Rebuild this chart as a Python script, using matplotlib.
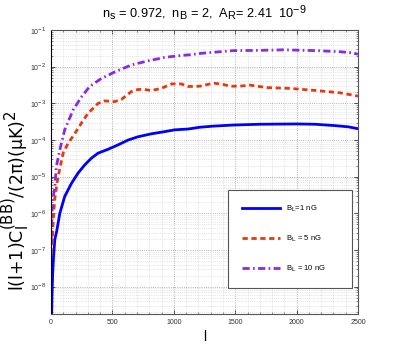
import numpy as np
import matplotlib
matplotlib.use("Agg")
import matplotlib.pyplot as plt
import matplotlib._mathtext as _mt
from matplotlib.ticker import LogLocator, FixedLocator, NullFormatter, MultipleLocator

# MATLAB-style TeX: sub/superscripts nearly full size
_mt.SHRINK_FACTOR = 0.85

# multipole values and spectra
l_b1 = [2, 5, 8, 13, 20, 30, 46, 71, 111, 166, 220, 274, 328, 383, 464, 546,
        627, 708, 817, 926, 1007, 1116, 1213, 1322, 1485, 1700, 2001, 2150,
        2299, 2420, 2500]
cl_b1 = [6.3e-10, 2.0e-9, 6.8e-9, 2.3e-8, 6.3e-8, 1.9e-7, 3.3e-7, 1.0e-6, 2.9e-6,
         6.6e-6, 1.26e-5, 2.1e-5, 3.2e-5, 4.4e-5, 5.6e-5, 7.4e-5,
         1.0e-4, 1.23e-4, 1.48e-4, 1.7e-4, 1.9e-4, 2.0e-4, 2.24e-4, 2.4e-4,
         2.57e-4, 2.7e-4, 2.75e-4, 2.7e-4, 2.5e-4, 2.3e-4, 2.04e-4]

l_b5 = [2, 5, 11, 19, 30, 43, 57, 98, 138, 193, 247, 301, 383, 437, 519, 573,
        654, 708, 760, 817, 898, 980, 1061, 1116, 1159, 1213, 1295, 1330, 1400,
        1458, 1539, 1620, 1756, 1946, 2163, 2354, 2500]
cl_b5 = [7.9e-8, 1.0e-7, 2.0e-7, 7.9e-7, 2.5e-6, 5.0e-6, 1.0e-5, 4.4e-5, 8.1e-5,
         1.5e-4, 2.9e-4, 5.4e-4, 1.0e-3, 1.17e-3, 1.12e-3, 1.29e-3,
         2.1e-3, 2.4e-3, 2.4e-3, 2.24e-3, 2.57e-3, 3.4e-3, 3.4e-3, 2.9e-3, 2.9e-3,
         2.95e-3, 3.4e-3, 3.55e-3, 3.3e-3, 2.95e-3, 2.95e-3, 3.16e-3, 2.7e-3,
         2.57e-3, 2.24e-3, 1.95e-3, 1.58e-3]

l_b10 = [2, 3, 10, 20, 30, 43, 71, 111, 179, 247, 315, 410, 519, 654, 790, 926,
         1061, 1116, 1213, 1268, 1485, 1700, 1892, 2163, 2354, 2450, 2500]
cl_b10 = [1.6e-7, 3.2e-7, 1.6e-6, 3.2e-6, 5.0e-6, 1.9e-5, 5.4e-5, 1.9e-4, 6.6e-4,
          1.5e-3, 2.9e-3, 4.8e-3, 7.2e-3, 1.12e-2, 1.45e-2, 1.8e-2,
          2.04e-2, 2.1e-2, 2.3e-2, 2.4e-2, 2.75e-2, 2.8e-2, 2.9e-2, 2.75e-2,
          2.57e-2, 2.4e-2, 2.2e-2]

labels = [r"B$_{\rm L}$=1 nG", r"B$_{\rm L}$ = 5 nG", r"B$_{\rm L}$ = 10 nG"]
ytick_vals = [1e-8, 1e-7, 1e-6, 1e-5, 1e-4, 1e-3, 1e-2, 1e-1]
xtick_vals = [0, 500, 1000, 1500, 2000, 2500]

plt.rcParams['font.family'] = ['Liberation Sans', 'DejaVu Sans']
plt.rcParams['mathtext.fontset'] = 'custom'
plt.rcParams['mathtext.rm'] = 'Liberation Sans'
plt.rcParams['mathtext.it'] = 'Liberation Sans'

fig = plt.figure(figsize=(3.96, 3.54), dpi=100)
ax = fig.add_axes([0.129, 0.113, 0.775, 0.802])

ax.semilogy(l_b1, cl_b1, color='#0000ff', lw=2.0, ls='-', label=labels[0])
ax.semilogy(l_b5, cl_b5, color='#e8380e', lw=2.0, ls=(0, (1.9, 1.3)), label=labels[1])
ax.semilogy(l_b10, cl_b10, color='#8a2be2', lw=2.0, ls=(0, (2.6, 1.2, 0.6, 1.2)), label=labels[2])

ax.set_xlim(0, 2500)
ax.set_ylim(1.8e-9, 0.1)
ax.set_xticks(xtick_vals)
ax.set_xticklabels([str(v) for v in xtick_vals])
ax.xaxis.set_minor_locator(MultipleLocator(100))
ax.yaxis.set_major_locator(FixedLocator(ytick_vals))
ax.yaxis.set_major_formatter(matplotlib.ticker.FuncFormatter(
    lambda v, p: r"$10^{%d}$" % int(round(np.log10(v)))))
ax.yaxis.set_minor_locator(LogLocator(base=10, subs=np.arange(2, 10), numticks=20))
ax.yaxis.set_minor_formatter(NullFormatter())

ax.tick_params(which='both', direction='in', top=True, right=True,
               labelsize=5, colors='#333333')
ax.tick_params(which='major', length=3, width=0.6)
ax.tick_params(which='minor', length=1.5, width=0.4)

ax.grid(which='major', ls=':', color='#9a9a9a', lw=0.6)
ax.grid(which='minor', ls=':', color='#cfcfcf', lw=0.5)

for s in ax.spines.values():
    s.set_color('#555555')
    s.set_linewidth(0.8)
ax.spines['left'].set_color('black')

ax.set_xlabel('l', fontsize=10, labelpad=3)
ax.set_ylabel(r"l(l+1)C$_{\rm l}^{\rm (BB)}$/(2π)(μK)$^{2}$", fontsize=12.5,
              family='DejaVu Sans', math_fontfamily='dejavusans')
ax.yaxis.set_label_coords(-0.066, 0.40)
ax.set_title(r"n$_{\rm s}$ = 0.972,  n$_{\rm B}$ = 2,  A$_{\rm R}$= 2.41  10$^{-9}$",
             fontsize=9.2, pad=8)

leg = ax.legend(loc='upper left', bbox_to_anchor=(0.577, 0.437, 0.403, 0.0),
                mode='expand', fontsize=5.5, handlelength=5.0, handletextpad=0.8,
                labelspacing=2.6, borderpad=1.8, borderaxespad=0,
                fancybox=False, framealpha=1, edgecolor='#555555')
leg.get_frame().set_linewidth(0.8)

fig.savefig('out.png', dpi=100)
